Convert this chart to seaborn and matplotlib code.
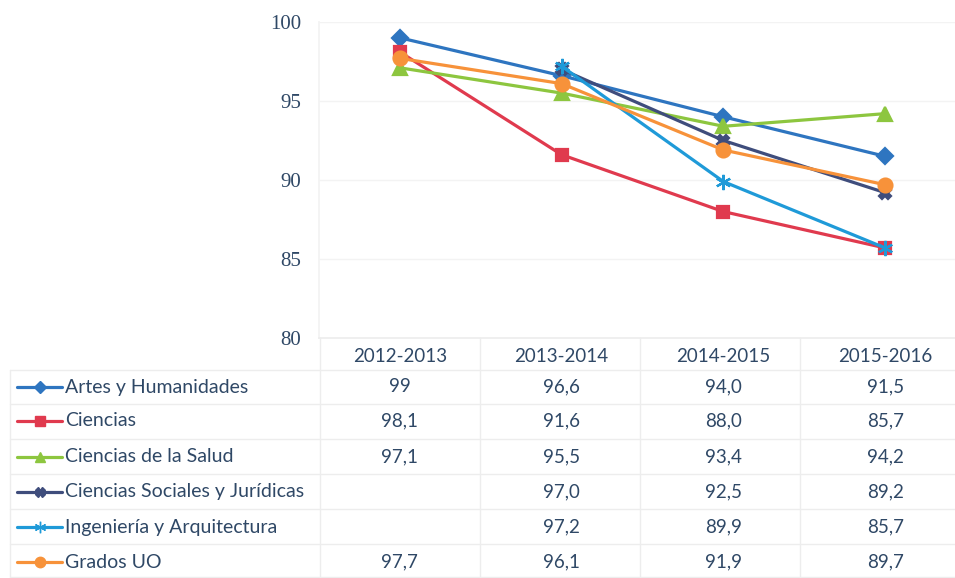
import numpy as np
import pandas as pd
import matplotlib
matplotlib.use("Agg")
import matplotlib.pyplot as plt
import matplotlib.transforms as mtransforms
from matplotlib.lines import Line2D
import seaborn as sns

# ---------------- data ----------------
years = ["2012-2013", "2013-2014", "2014-2015", "2015-2016"]
series_names = ["Artes y Humanidades", "Ciencias", "Ciencias de la Salud",
                "Ciencias Sociales y Jurídicas", "Ingeniería y Arquitectura", "Grados UO"]
artes = ["99", "96,6", "94,0", "91,5"]
ciencias = ["98,1", "91,6", "88,0", "85,7"]
salud = ["97,1", "95,5", "93,4", "94,2"]
sociales = ["", "97,0", "92,5", "89,2"]
ingenieria = ["", "97,2", "89,9", "85,7"]
grados = ["97,7", "96,1", "91,9", "89,7"]
yticks = [80, 85, 90, 95, 100]

table_text = [artes, ciencias, salud, sociales, ingenieria, grados]
colors = ["#2E75C0", "#E03A4E", "#8DC63F", "#3F4D7C", "#1F9AD8", "#F7923A"]
markers = ["D", "s", "^", "X", (6, 2, 0), "o"]
msizes = [8, 9, 10, 9, 11, 10]

def to_num(s):
    return float(s.replace(",", ".")) if s else np.nan

rows = []
for name, vals in zip(series_names, table_text):
    for i, s in enumerate(vals):
        rows.append({"serie": name, "x": i, "valor": to_num(s)})
df = pd.DataFrame(rows).dropna()

# ---------------- figure ----------------
sns.set_theme(style="white")
plt.rcParams["font.family"] = ["Lato", "DejaVu Sans"]
W, H = 955, 578
fig = plt.figure(figsize=(W / 100, H / 100), dpi=100)
ax = fig.add_axes([319 / W, 1 - 338 / H, (966 - 319) / W, (338 - 22) / H])

txtcol = "#2F4866"
gridcol = "#EDEDED"

for name, col, mk, ms in zip(series_names, colors, markers, msizes):
    sub = df[df["serie"] == name]
    sns.lineplot(data=sub, x="x", y="valor", ax=ax, color=col, marker=mk,
                 markersize=ms, markeredgecolor=col, markerfacecolor=col,
                 markeredgewidth=1.6, linewidth=2.3, legend=False, sort=True)

ax.set_xlim(-0.5, 3.5)
ax.set_ylim(80, 100)
ax.set_yticks(yticks)
ax.set_yticklabels([str(t) for t in yticks], family="Liberation Serif",
                   fontsize=15, color=txtcol)
ax.tick_params(axis="y", length=0, pad=13)
ax.set_xticks([])
ax.set_xlabel("")
ax.set_ylabel("")
for t in yticks[1:]:
    ax.axhline(t, color="#F3F3F3", lw=1, zorder=0)
for sp in ["top", "right"]:
    ax.spines[sp].set_visible(False)
ax.spines["left"].set_color("#F3F3F3")
ax.spines["bottom"].set_color(gridcol)
ax.patch.set_alpha(0)

# ---------------- data table ----------------
trans = mtransforms.blended_transform_factory(ax.transData, fig.transFigure)
def fy(py):
    return 1 - py / H

# header
for i, yr in enumerate(years):
    fig.text(i, fy(356), yr, transform=trans, ha="center", va="center",
             fontsize=13.5, color=txtcol)

row_y = [387, 421, 457, 492, 527, 562]
for r, (name, vals, col, mk, ms) in enumerate(zip(series_names, table_text, colors, markers, msizes)):
    yy = fy(row_y[r])
    fig.add_artist(Line2D([17 / W, 62 / W], [yy, yy], transform=fig.transFigure,
                          color=col, lw=2.3))
    fig.add_artist(Line2D([39.5 / W], [yy], transform=fig.transFigure, color=col,
                          marker=mk, markersize=ms * 0.75, markeredgecolor=col,
                          markerfacecolor=col, linestyle="none"))
    fig.text(65 / W, yy, name, ha="left", va="center", fontsize=14, color=txtcol)
    for i, s in enumerate(vals):
        if s:
            fig.text(i, yy, s, transform=trans, ha="center", va="center",
                     fontsize=13.5, color=txtcol)

# table grid
hl = [370, 404, 439, 474, 509, 544, 577]
for py in hl:
    fig.add_artist(Line2D([10 / W, 1], [fy(py), fy(py)], transform=fig.transFigure,
                          color=gridcol, lw=1))
for px in [10, 320, 480, 640, 800]:
    top = 370 if px == 10 else 338
    fig.add_artist(Line2D([px / W, px / W], [fy(top), fy(577)], transform=fig.transFigure,
                          color=gridcol, lw=1))

fig.savefig("out.png", dpi=100, facecolor="white")
